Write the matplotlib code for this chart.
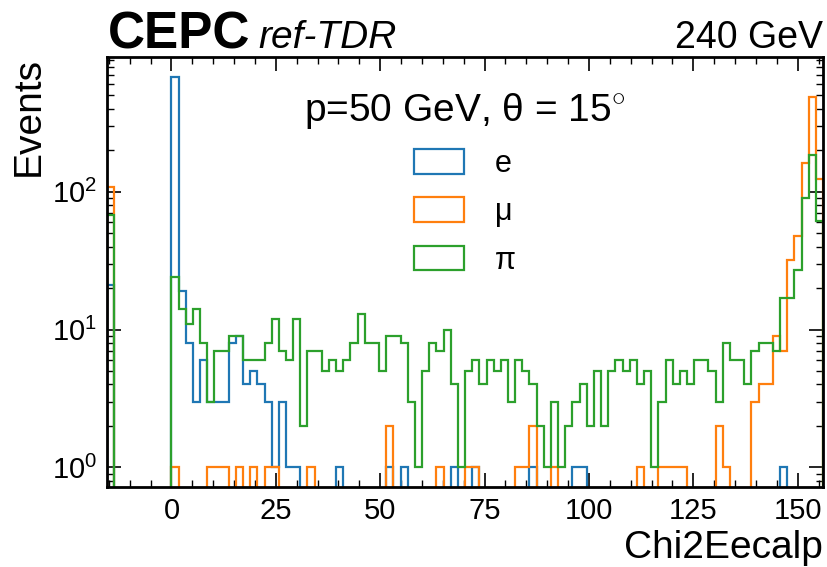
import matplotlib
matplotlib.use('Agg')
import matplotlib.pyplot as plt
import numpy as np
from matplotlib.ticker import MultipleLocator, LogLocator, NullFormatter

plt.rcParams['font.family'] = ['Liberation Sans', 'DejaVu Sans']
plt.rcParams['mathtext.fontset'] = 'custom'
plt.rcParams['mathtext.rm'] = 'Liberation Sans'
plt.rcParams['mathtext.it'] = 'Liberation Sans:italic'
plt.rcParams['mathtext.bf'] = 'Liberation Sans:bold'

# binning (100 bins)
x_lo, x_hi, n_bins = -15.44, 156.06, 100

# counts per bin
e_counts = [21, 0, 0, 0, 0, 0, 0, 0, 0, 680,
            19, 8, 3, 6, 3, 3, 3, 8, 9, 4,
            5, 4, 3, 1, 3, 1, 1, 0, 0, 0,
            0, 0, 1, 0, 0, 0, 0, 0, 0, 1,
            0, 1, 0, 0, 0, 0, 0, 0, 1, 0,
            0, 1, 0, 0, 0, 0, 0, 0, 0, 1,
            0, 0, 0, 0, 0, 1, 1, 0, 0, 0,
            0, 0, 0, 0, 0, 0, 0, 0, 0, 0,
            0, 0, 0, 0, 0, 0, 0, 0, 0, 0,
            0, 0, 0, 0, 1, 0, 0, 0, 0, 0]
mu_counts = [109, 0, 0, 0, 0, 0, 0, 0, 0, 1,
             0, 0, 0, 0, 1, 1, 1, 0, 1, 0,
             1, 0, 1, 1, 0, 0, 0, 0, 1, 0,
             0, 0, 0, 0, 0, 0, 0, 0, 0, 2,
             0, 0, 0, 0, 0, 0, 1, 0, 0, 0,
             1, 1, 0, 0, 0, 0, 0, 1, 1, 2,
             0, 0, 1, 0, 0, 0, 0, 0, 0, 0,
             0, 0, 0, 0, 1, 0, 0, 1, 1, 1,
             1, 0, 0, 0, 0, 2, 1, 0, 0, 0,
             3, 4, 4, 9, 7, 32, 48, 162, 485, 123]
pi_counts = [68, 0, 0, 0, 0, 0, 0, 0, 0, 24,
             14, 11, 14, 8, 3, 7, 7, 9, 9, 6,
             6, 6, 8, 12, 7, 6, 12, 2, 7, 7,
             5, 6, 5, 6, 8, 13, 8, 8, 5, 9,
             9, 8, 3, 1, 5, 8, 7, 10, 4, 1,
             5, 6, 4, 6, 5, 6, 3, 6, 5, 4,
             2, 1, 3, 1, 2, 3, 4, 2, 5, 2,
             5, 6, 5, 6, 4, 5, 1, 3, 6, 4,
             5, 4, 6, 6, 5, 3, 8, 6, 6, 4,
             7, 8, 8, 7, 17, 17, 27, 90, 186, 61]

labels = ['e', 'μ', 'π']
colors = ['#1f77b4', '#ff7f0e', '#2ca02c']

edges = np.linspace(x_lo, x_hi, n_bins + 1)
centers = 0.5 * (edges[:-1] + edges[1:])

fig = plt.figure(figsize=(8.27, 5.67), dpi=100)
ax = fig.add_axes([0.1294, 0.1411, 0.8658, 0.7584])

for counts, lab, col in zip([e_counts, mu_counts, pi_counts], labels, colors):
    ax.hist(centers, bins=edges, weights=counts, histtype='step',
            lw=1.6, color=col, label=lab)

ax.set_yscale('log')
ax.set_xlim(x_lo, x_hi)
ax.set_ylim(0.72, 950)

ax.xaxis.set_major_locator(MultipleLocator(25))
ax.xaxis.set_minor_locator(MultipleLocator(5))
ax.yaxis.set_minor_locator(LogLocator(base=10, subs=np.arange(2, 10), numticks=20))
ax.yaxis.set_minor_formatter(NullFormatter())
ax.tick_params(which='both', direction='in', top=True, right=True, labelsize=21)
ax.tick_params(which='major', length=10, width=1.2, pad=7)
ax.tick_params(which='minor', length=5, width=1)
for s in ax.spines.values():
    s.set_linewidth(2)

ax.set_ylabel('Events', fontsize=28, loc='top')
ax.set_xlabel('Chi2Eecalp', fontsize=28, loc='right')

fig.text(0.1306, 0.915, 'CEPC', weight='bold', fontsize=37, va='baseline')
fig.text(0.312, 0.915, 'ref-TDR', style='italic', fontsize=28, va='baseline')
fig.text(0.995, 0.915, '240 GeV', fontsize=27, ha='right', va='baseline')

ax.legend(title='p=50 GeV, θ = 15$^{\\circ}$', loc='upper center',
          frameon=False, fontsize=22, title_fontsize=28, handlelength=1.65,
          handleheight=0.85, labelspacing=0.6, handletextpad=1.0,
          borderaxespad=0.7)

fig.savefig('out.png', dpi=100)
